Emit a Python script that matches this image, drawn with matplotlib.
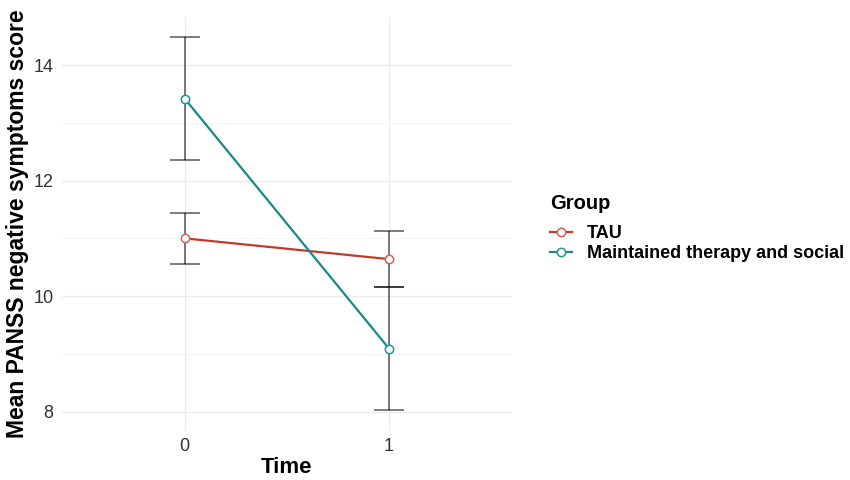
import numpy as np
import matplotlib.pyplot as plt

# Datos
time = [0, 1]
groups = ['TAU', 'Maintained therapy and social']
tau_mean = [11.00, 10.64]
tau_err = [0.44, 0.49]
mts_mean = [13.42, 9.09]
mts_err = [1.06, 1.06]

colors = ['#C0392B', '#17898A']
edge_colors = ['#D0605A', '#1E9494']

plt.rcParams['font.family'] = ['Liberation Sans', 'DejaVu Sans']

fig = plt.figure(figsize=(8.5, 4.8), dpi=100)
ax = fig.add_axes([0.073, 0.104, 0.529, 0.859])

# Barras de error (detras de las lineas)
for m, e in [(tau_mean, tau_err), (mts_mean, mts_err)]:
    ax.errorbar(time, m, yerr=e, fmt='none', ecolor='black', alpha=0.65,
                elinewidth=1.1, capsize=11, capthick=1.1, zorder=2)

for i, m in enumerate([tau_mean, mts_mean]):
    ax.plot(time, m, color=colors[i], lw=1.6, marker='o', ms=6,
            mfc='white', mec=edge_colors[i], mew=1.1, label=groups[i], zorder=3)

ax.set_xlim(-0.6, 1.6)
ax.set_ylim(7.68, 14.82)
ax.set_xticks(time)
ax.set_yticks([8, 10, 12, 14])
ax.set_yticks([9, 11, 13], minor=True)
ax.grid(which='major', color='#EBEBEB', lw=0.9)
ax.grid(which='minor', axis='y', color='#F2F2F2', lw=0.6)
ax.set_axisbelow(True)
for s in ax.spines.values():
    s.set_visible(False)
ax.tick_params(which='both', length=0, labelsize=13, labelcolor='#333333', pad=6)

ax.set_xlabel('Time', fontsize=16, fontweight='bold', labelpad=1)
ax.set_ylabel('Mean PANSS negative symptoms score', fontsize=16.5, fontweight='bold', labelpad=3)

leg = ax.legend(title='Group', loc='center left', bbox_to_anchor=(1.05, 0.49),
                frameon=False, prop={'weight': 'bold', 'size': 13},
                title_fontproperties={'weight': 'bold', 'size': 14.5},
                handlelength=1.2, handletextpad=0.8, labelspacing=0.15)
leg._legend_box.align = 'left'
leg._legend_box.sep = 9

fig.savefig('out.png', dpi=100)
